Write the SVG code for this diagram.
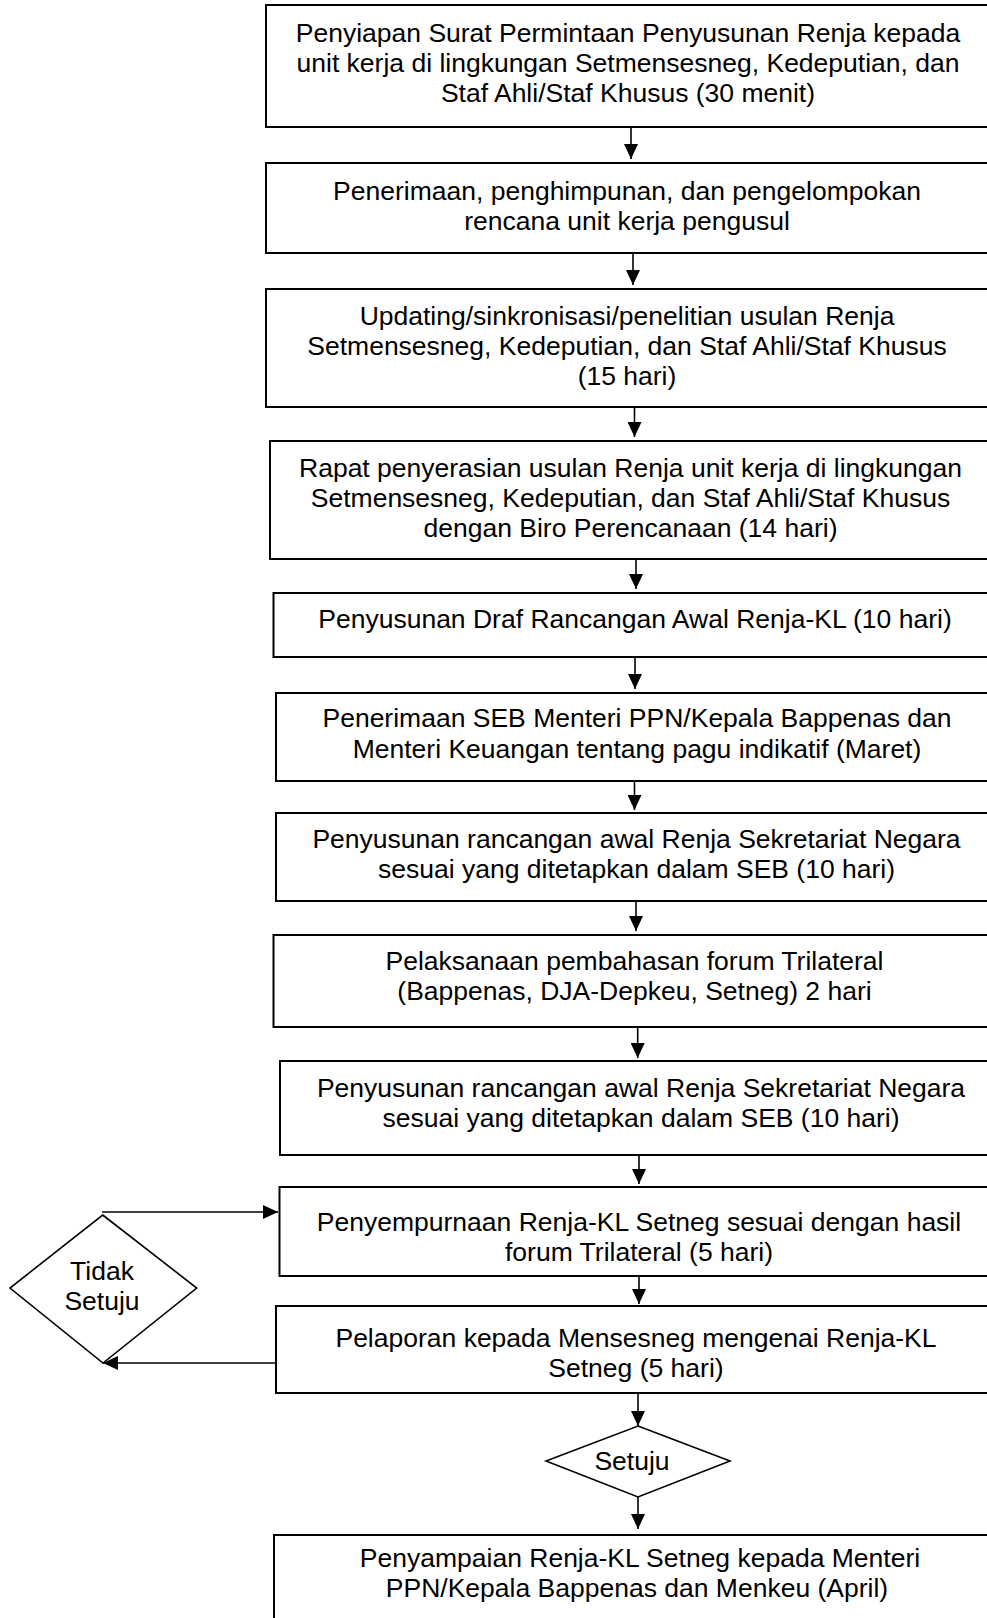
<svg xmlns="http://www.w3.org/2000/svg" width="987" height="1618" viewBox="0 0 987 1618">
<style>
.box{fill:#fff;stroke:#000;stroke-width:2}
.dia{fill:#fff;stroke:#000;stroke-width:1.6}
.t{font-family:"Liberation Sans",Arial,sans-serif;font-size:26.5px;fill:#000;text-anchor:middle}
.c{fill:none;stroke:#000;stroke-width:1.6;marker-end:url(#ah)}
</style>
<defs>
<marker id="ah" viewBox="0 0 15 14" refX="15" refY="7" markerWidth="15" markerHeight="14" markerUnits="userSpaceOnUse" orient="auto">
<path d="M0,0 L15,7 L0,14 Z" fill="#000"/>
</marker>
</defs>
<rect width="987" height="1618" fill="#fff"/>
<g id="connectors">
<line class="c" x1="631" y1="127" x2="631" y2="159"/>
<line class="c" x1="633" y1="253" x2="633" y2="285"/>
<line class="c" x1="634.5" y1="407" x2="634.5" y2="437"/>
<line class="c" x1="636" y1="559" x2="636" y2="589"/>
<line class="c" x1="635" y1="657" x2="635" y2="689"/>
<line class="c" x1="634.5" y1="781" x2="634.5" y2="810"/>
<line class="c" x1="636" y1="901" x2="636" y2="931"/>
<line class="c" x1="637.7" y1="1027" x2="637.7" y2="1058"/>
<line class="c" x1="639" y1="1155" x2="639" y2="1184"/>
<line class="c" x1="639" y1="1276" x2="639" y2="1304"/>
<line class="c" x1="638" y1="1393" x2="638" y2="1426"/>
<line class="c" x1="638" y1="1497" x2="638" y2="1529"/>
<line class="c" x1="102" y1="1212" x2="278" y2="1212"/>
<line class="c" x1="278" y1="1363" x2="103" y2="1363"/>
</g>
<g id="n1"><rect class="box" x="266" y="5" width="740" height="122"/>
<text class="t" x="628" y="42">Penyiapan Surat Permintaan Penyusunan Renja kepada</text>
<text class="t" x="628" y="72">unit kerja di lingkungan Setmensesneg, Kedeputian, dan</text>
<text class="t" x="628" y="102">Staf Ahli/Staf Khusus (30 menit)</text></g>
<g id="n2"><rect class="box" x="266" y="163" width="740" height="90"/>
<text class="t" x="627" y="200">Penerimaan, penghimpunan, dan pengelompokan</text>
<text class="t" x="627" y="230">rencana unit kerja pengusul</text></g>
<g id="n3"><rect class="box" x="266" y="289" width="740" height="118"/>
<text class="t" x="627" y="325">Updating/sinkronisasi/penelitian usulan Renja</text>
<text class="t" x="627" y="355">Setmensesneg, Kedeputian, dan Staf Ahli/Staf Khusus</text>
<text class="t" x="627" y="385">(15 hari)</text></g>
<g id="n4"><rect class="box" x="270" y="441" width="740" height="118"/>
<text class="t" x="630.5" y="477">Rapat penyerasian usulan Renja unit kerja di lingkungan</text>
<text class="t" x="630.5" y="507">Setmensesneg, Kedeputian, dan Staf Ahli/Staf Khusus</text>
<text class="t" x="630.5" y="537">dengan Biro Perencanaan (14 hari)</text></g>
<g id="n5"><rect class="box" x="273.5" y="593" width="740" height="64"/>
<text class="t" x="635" y="628">Penyusunan Draf Rancangan Awal Renja-KL (10 hari)</text></g>
<g id="n6"><rect class="box" x="276" y="693" width="740" height="88"/>
<text class="t" x="637" y="727">Penerimaan SEB Menteri PPN/Kepala Bappenas dan</text>
<text class="t" x="637" y="758">Menteri Keuangan tentang pagu indikatif (Maret)</text></g>
<g id="n7"><rect class="box" x="276" y="813" width="740" height="88"/>
<text class="t" x="636.5" y="848">Penyusunan rancangan awal Renja Sekretariat Negara</text>
<text class="t" x="636.5" y="878">sesuai yang ditetapkan dalam SEB (10 hari)</text></g>
<g id="n8"><rect class="box" x="273.5" y="935" width="740" height="92"/>
<text class="t" x="634.5" y="970">Pelaksanaan pembahasan forum Trilateral</text>
<text class="t" x="634.5" y="1000">(Bappenas, DJA-Depkeu, Setneg) 2 hari</text></g>
<g id="n9"><rect class="box" x="280" y="1061" width="740" height="94"/>
<text class="t" x="641" y="1097">Penyusunan rancangan awal Renja Sekretariat Negara</text>
<text class="t" x="641" y="1127">sesuai yang ditetapkan dalam SEB (10 hari)</text></g>
<g id="n10"><rect class="box" x="279.5" y="1187" width="740" height="89"/>
<text class="t" x="639" y="1231">Penyempurnaan Renja-KL Setneg sesuai dengan hasil</text>
<text class="t" x="639" y="1261">forum Trilateral (5 hari)</text></g>
<g id="n11"><rect class="box" x="276" y="1306" width="740" height="87"/>
<text class="t" x="636" y="1347">Pelaporan kepada Mensesneg mengenai Renja-KL</text>
<text class="t" x="636" y="1377">Setneg (5 hari)</text></g>
<g id="d1"><polygon class="dia" points="102.7,1215 196.7,1288 103,1363 10,1288"/>
<text class="t" x="102" y="1280">Tidak</text>
<text class="t" x="102" y="1310">Setuju</text></g>
<g id="d2"><polygon class="dia" points="638,1426 730,1461 638,1497 546,1461"/>
<text class="t" x="632" y="1470">Setuju</text></g>
<g id="n12"><rect class="box" x="274" y="1535" width="740" height="120"/>
<text class="t" x="640" y="1567">Penyampaian Renja-KL Setneg kepada Menteri</text>
<text class="t" x="637" y="1597">PPN/Kepala Bappenas dan Menkeu (April)</text></g>
</svg>
